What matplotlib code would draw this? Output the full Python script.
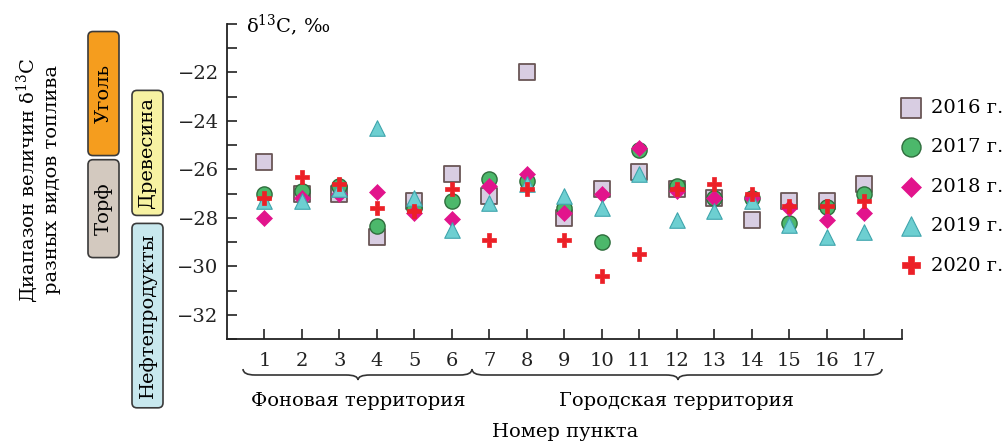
import numpy as np
import matplotlib
matplotlib.use("Agg")
import matplotlib.pyplot as plt
from matplotlib.path import Path
from matplotlib.patches import PathPatch, FancyBboxPatch

plt.rcParams['font.family'] = ['DejaVu Serif']
plt.rcParams['mathtext.fontset'] = 'dejavuserif'
plt.rcParams['axes.unicode_minus'] = True

# ---------------- data ----------------
points = list(range(1, 18))
years = ["2016 г.", "2017 г.", "2018 г.", "2019 г.", "2020 г."]
v2016 = [-25.7, -27.0, -27.0, -28.8, -27.3, -26.2, -27.1, -22.0, -28.0, -26.8, -26.1, -26.8, -27.2, -28.1, -27.3, -27.3, -26.6]
v2017 = [-27.0, -26.9, -26.7, -28.35, -27.6, -27.3, -26.4, -26.5, -27.6, -29.0, -25.2, -26.7, -27.2, -27.2, -28.2, -27.55, -27.0]
v2018 = [-28.0, -27.2, -27.0, -26.95, -27.8, -28.05, -26.7, -26.2, -27.8, -27.0, -25.1, -26.9, -27.2, -27.2, -27.6, -28.1, -27.8]
v2019 = [-27.3, -27.3, -26.8, -24.3, -27.2, -28.5, -27.4, -26.6, -27.1, -27.6, -26.2, -28.1, -27.7, -27.3, -28.3, -28.8, -28.6]
v2020 = [-27.2, -26.3, -26.6, -27.6, -27.7, -26.8, -28.9, -26.8, -28.9, -30.4, -29.5, -26.8, -26.6, -27.0, -27.5, -27.5, -27.3]
series = [v2016, v2017, v2018, v2019, v2020]

yticks = [-22, -24, -26, -28, -30, -32]
fuel_names = ["Уголь", "Торф", "Древесина", "Нефтепродукты"]
fuel_low = [-25.43, -29.64, -27.9, -35.84]
fuel_high = [-20.31, -25.6, -22.74, -28.23]

groups = ["Фоновая территория", "Городская территория"]

# ---------------- style ----------------
FS = 14
W, H = 1004, 445
fig = plt.figure(figsize=(W / 100, H / 100), dpi=100)

def fx(px):
    return px / W

def fy(py):
    return 1 - py / H

ax_l, ax_r, ax_t, ax_b = 227, 902, 24, 339
ax = fig.add_axes([fx(ax_l), fy(ax_b), fx(ax_r - ax_l), (ax_b - ax_t) / H])

markers = ['s', 'o', 'D', '^', 'P']
sizes = [135, 120, 66, 125, 110]
faces = ['#d8cde2', '#4cb86b', '#e2148c', '#6dcfd1', '#ec2027']
edges = ['#6a5656', '#2e6d3c', '#e2148c', '#3fa5ad', '#ec2027']
lws = [1.3, 1.0, 0.5, 0.8, 0.5]

for vals, lab, m, s, fc, ec, lw in zip(series, years, markers, sizes, faces, edges, lws):
    ax.scatter(points, vals, marker=m, s=s, facecolor=fc, edgecolor=ec,
               linewidths=lw, label=lab, clip_on=False, zorder=3)

ax.set_xlim(0, 18)
ax.set_ylim(-33, -20)
ax.set_xticks(list(range(1, 19)))
ax.set_xticklabels([str(p) for p in points] + [""])
ax.set_yticks(yticks)
ax.set_yticklabels([f"−{abs(t)}" for t in yticks])
ax.set_yticks(list(range(-33, -19)), minor=True)
for sp in ['top', 'right']:
    ax.spines[sp].set_visible(False)
for sp in ['left', 'bottom']:
    ax.spines[sp].set_linewidth(1.3)
    ax.spines[sp].set_color('#222222')
ax.tick_params(axis='both', which='both', direction='in', length=7, width=1.2,
               colors='#222222', labelsize=FS)
ax.tick_params(axis='y', which='major', pad=6)
ax.tick_params(axis='x', which='major', pad=9)
ax.tick_params(axis='y', which='minor', length=7)

fig.text(fx(246), fy(25), "δ$^{13}$C, ‰", fontsize=FS, va='center', ha='left')

# legend
leg = ax.legend(loc='upper left', bbox_to_anchor=(fx(899), fy(99)),
                bbox_transform=fig.transFigure, frameon=False, fontsize=FS,
                labelspacing=1.1, handletextpad=0.45, handlelength=1.2,
                markerscale=1.25, borderaxespad=0, borderpad=0)

# braces
def brace(x0, x1, xm, y_end, y_line, y_tip, r=12):
    verts = [(x0, y_end), (x0, y_line), (x0 + r, y_line),
             (xm - r, y_line), (xm, y_line), (xm, y_tip),
             (xm, y_line), (xm + r, y_line),
             (x1 - r, y_line), (x1, y_line), (x1, y_end)]
    codes = [Path.MOVETO, Path.CURVE3, Path.CURVE3,
             Path.LINETO, Path.CURVE3, Path.CURVE3,
             Path.CURVE3, Path.CURVE3,
             Path.LINETO, Path.CURVE3, Path.CURVE3]
    verts = [(fx(a), fy(b)) for a, b in verts]
    fig.add_artist(PathPatch(Path(verts, codes), transform=fig.transFigure,
                             fill=False, edgecolor='#333333', lw=1.2))

brace(243, 472, 358, 369, 375, 380)
brace(472, 882, 678, 369, 375, 380)

fig.text(fx(358), fy(401), groups[0], fontsize=FS, ha='center', va='center')
fig.text(fx(677), fy(401), groups[1], fontsize=FS, ha='center', va='center')
fig.text(fx(565), fy(432), "Номер пункта", fontsize=FS, ha='center', va='center')

# left title
fig.text(fx(38), fy(180), "Диапазон величин δ$^{13}$C\nразных видов топлива",
         rotation=90, fontsize=FS, ha='center', va='center', multialignment='center',
         linespacing=1.2)

# fuel range boxes (same vertical scale as the main axes)
px_per_unit = (ax_b - ax_t) / 13.0
bx_top, bx_bot = 20, 440
axb = fig.add_axes([0, fy(bx_bot), 1, (bx_bot - bx_top) / H])
axb.set_xlim(0, W)
axb.set_ylim(-20 - (bx_bot - ax_t) / px_per_unit, -20 - (bx_top - ax_t) / px_per_unit)
axb.axis('off')
axb.patch.set_alpha(0)
box_x = [88, 88, 132, 132]
box_w = 31
box_colors = ['#f59d1e', '#d3c9bf', '#f7f2a2', '#c8e8ee']
for name, lo, hi, x0, c in zip(fuel_names, fuel_low, fuel_high, box_x, box_colors):
    p = FancyBboxPatch((x0, lo), box_w, hi - lo,
                       boxstyle="round,pad=0,rounding_size=5",
                       mutation_aspect=1 / px_per_unit,
                       facecolor=c, edgecolor='#3a3a3a', lw=1.2)
    axb.add_patch(p)
    axb.text(x0 + box_w / 2, (lo + hi) / 2, name, rotation=90, fontsize=FS,
             ha='center', va='center')

fig.savefig("out.png", dpi=100)
